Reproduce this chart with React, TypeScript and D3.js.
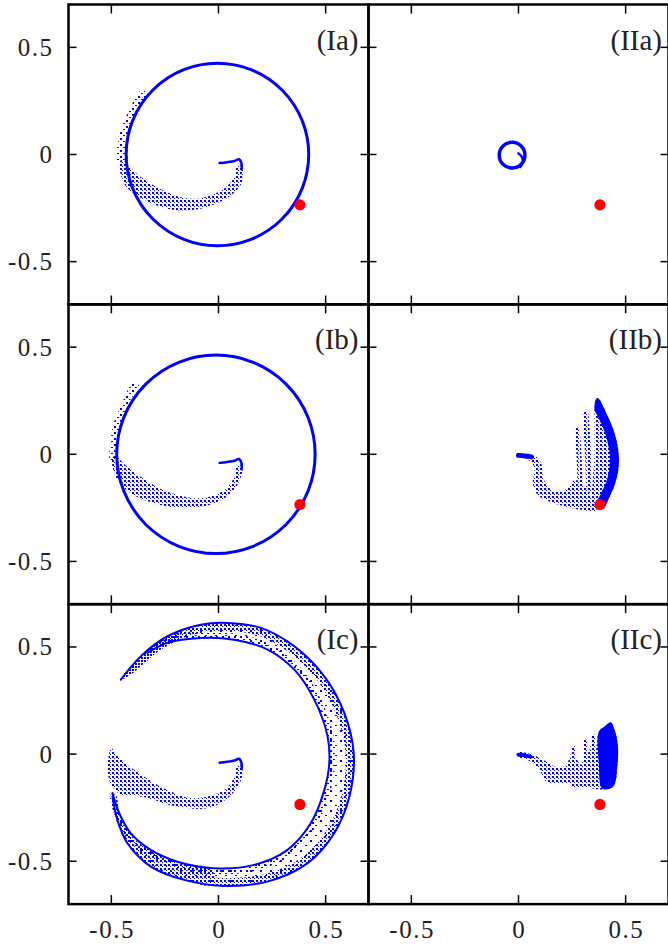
import React from "react";
import * as d3 from "d3";

type P = [number, number];

// axis ticks shared by every panel
const xTicks = [-0.5, 0, 0.5];
const yTicks = [-0.5, 0, 0.5];
const tickText = ["-0.5", "0", "0.5"];
const labels = ["(Ia)", "(IIa)", "(Ib)", "(IIb)", "(Ic)", "(IIc)"];
const redPoint: P = [0.38, -0.235];

// ---- (Ia) ----
const ringIa = [-0.005, 0, 0.426]; // cx, cy, r
const haloIa: P[] = [[-0.36, 0.3], [-0.41, 0.22], [-0.45, 0.13], [-0.47, 0.05], [-0.47, -0.03], [-0.43, -0.03], [-0.425, 0.05], [-0.405, 0.13], [-0.37, 0.22], [-0.33, 0.28]];
const hookI: P[] = [[0.005, -0.04], [0.04, -0.036], [0.075, -0.03], [0.095, -0.022], [0.107, -0.04], [0.108, -0.07]];
const tailIa: P[] = [[0.08, -0.06], [0.078, -0.095], [0.048, -0.14], [-0.01, -0.18], [-0.09, -0.205], [-0.18, -0.198], [-0.276, -0.159], [-0.353, -0.112], [-0.424, -0.05], [-0.45, -0.025], [-0.465, -0.04], [-0.455, -0.096], [-0.431, -0.151], [-0.369, -0.198], [-0.291, -0.237], [-0.198, -0.26], [-0.104, -0.257], [-0.01, -0.229], [0.059, -0.19], [0.106, -0.136], [0.114, -0.075], [0.108, -0.05]];

// ---- (Ib) ----
const ringIb = [-0.012, 0, 0.463];
const haloIb: P[] = [[-0.4, 0.33], [-0.45, 0.24], [-0.49, 0.14], [-0.505, 0.05], [-0.505, -0.03], [-0.475, -0.03], [-0.472, 0.05], [-0.455, 0.14], [-0.42, 0.24], [-0.37, 0.32]];
const tailIb: P[] = [[0.08, -0.06], [0.076, -0.1], [0.03, -0.165], [-0.083, -0.205], [-0.238, -0.175], [-0.363, -0.105], [-0.456, -0.03], [-0.48, 0.0], [-0.497, -0.03], [-0.472, -0.12], [-0.41, -0.182], [-0.3, -0.229], [-0.16, -0.252], [-0.02, -0.229], [0.073, -0.167], [0.112, -0.075], [0.108, -0.05]];

// ---- (Ic) ----
const tailIc: P[] = [[0.08, -0.06], [0.076, -0.1], [0.03, -0.165], [-0.114, -0.206], [-0.238, -0.167], [-0.394, -0.073], [-0.48, 0.0], [-0.5, 0.03], [-0.515, -0.03], [-0.51, -0.12], [-0.47, -0.18], [-0.35, -0.2], [-0.192, -0.245], [-0.051, -0.252], [0.05, -0.2], [0.106, -0.12], [0.112, -0.075], [0.108, -0.05]];
const outerIc: P[] = [[-0.456, 0.347], [-0.363, 0.456], [-0.238, 0.55], [-0.083, 0.604], [0.042, 0.612], [0.198, 0.589], [0.354, 0.503], [0.494, 0.363], [0.587, 0.192], [0.631, 0.005], [0.611, -0.198], [0.54, -0.369], [0.416, -0.509], [0.229, -0.595], [0.026, -0.615], [-0.16, -0.587], [-0.316, -0.525], [-0.425, -0.416], [-0.472, -0.307], [-0.495, -0.198]];
const innerIc: P[] = [[-0.332, 0.472], [-0.238, 0.519], [-0.083, 0.542], [0.073, 0.534], [0.229, 0.488], [0.354, 0.394], [0.447, 0.254], [0.509, 0.083], [0.517, -0.042], [0.494, -0.167], [0.431, -0.322], [0.322, -0.447], [0.167, -0.517], [-0.02, -0.533], [-0.192, -0.502], [-0.316, -0.447], [-0.41, -0.369], [-0.463, -0.276], [-0.495, -0.182]];
const hornIc: P[] = [[-0.46, 0.345], [-0.4, 0.42], [-0.33, 0.49], [-0.25, 0.54], [-0.17, 0.575], [-0.2, 0.53], [-0.28, 0.48], [-0.35, 0.42], [-0.41, 0.37]];
const footIc: P[] = [[-0.505, -0.19], [-0.48, -0.3], [-0.425, -0.416], [-0.316, -0.525], [-0.16, -0.587], [-0.03, -0.61], [-0.03, -0.54], [-0.192, -0.505], [-0.316, -0.452], [-0.41, -0.375], [-0.46, -0.28], [-0.48, -0.19]];
const betweenIc: P[] = [...outerIc, ...innerIc.slice().reverse()];

// ---- (IIa) ----
const ringIIa = [-0.03, -0.003, 0.06];
const hookIIa: P[] = [[0.0, 0.005], [0.015, -0.01], [0.02, -0.035], [0.008, -0.058]];

// ---- (IIb) ----
const blobIIb: P[] = [[0.0, -0.005], [0.03, -0.008], [0.06, -0.012]];
const neckIIb: P[] = [[0.04, -0.002], [0.083, -0.011], [0.106, -0.042], [0.114, -0.104], [0.137, -0.151], [0.192, -0.175], [0.238, -0.151], [0.262, -0.12], [0.3, -0.14], [0.34, -0.2], [0.363, -0.262], [0.301, -0.26], [0.223, -0.245], [0.145, -0.221], [0.09, -0.19], [0.067, -0.136], [0.075, -0.073], [0.059, -0.034], [0.03, -0.02]];
const finger1IIb: P[] = [[0.274, 0.114], [0.282, 0.0], [0.287, -0.135]];
const finger2IIb: P[] = [[0.313, 0.184], [0.322, 0.05], [0.33, -0.167]];
const crescentIIb: P[] = [[0.371, 0.262], [0.417, 0.176], [0.453, 0.082], [0.469, -0.027], [0.456, -0.12], [0.425, -0.198], [0.394, -0.253], [0.347, -0.225], [0.347, -0.12], [0.355, 0.004], [0.355, 0.129], [0.36, 0.255]];
const rimIIb: P[] = [[0.371, 0.262], [0.417, 0.176], [0.453, 0.082], [0.469, -0.027], [0.456, -0.12], [0.425, -0.198], [0.394, -0.253]];

// ---- (IIc) ----
const blobIIc: P[] = [[0.0, -0.003], [0.03, -0.006], [0.055, -0.012]];
const bodyIIc: P[] = [[0.005, 0.008], [0.067, -0.003], [0.121, -0.03], [0.176, -0.061], [0.215, -0.058], [0.238, -0.019], [0.257, 0.028], [0.273, -0.026], [0.293, -0.05], [0.313, 0.059], [0.324, 0.004], [0.351, 0.082], [0.363, 0.02], [0.375, 0.105], [0.402, 0.129], [0.43, 0.149], [0.449, 0.113], [0.464, 0.036], [0.461, -0.058], [0.441, -0.154], [0.363, -0.164], [0.316, -0.154], [0.27, -0.159], [0.231, -0.136], [0.207, -0.136], [0.13, -0.128], [0.106, -0.089], [0.075, -0.05], [0.036, -0.024], [0.005, -0.015]];
const coreIIc: P[] = [[0.375, 0.105], [0.402, 0.129], [0.43, 0.149], [0.449, 0.113], [0.464, 0.036], [0.461, -0.058], [0.441, -0.154], [0.39, -0.16], [0.375, -0.05]];
const fingersIIc: P[][] = [
  [[0.257, 0.028], [0.26, -0.05], [0.265, -0.13]],
  [[0.313, 0.059], [0.318, -0.03], [0.32, -0.14]],
  [[0.351, 0.082], [0.355, 0.0], [0.358, -0.14]],
];

const BLUE = "#0000ff";
const FONT = "'Liberation Serif', 'Times New Roman', serif";
const colX = [68.5, 368.5];
const rowY = [4.5, 304.3, 604.1];
const PW = 300;
const PH = 300;

type Stroke = { pts: P[]; w: number; paint: string; clip?: P[] };
type Area = { pts: P[]; paint: string };
type Panel = { rings: { c: number[]; w: number }[]; areas: Area[]; strokes: Stroke[] };

const dense = "url(#dotsDense)";
const med = "url(#dotsMed)";
const sparse = "url(#dotsSparse)";
const faint = "url(#dotsFaint)";

const panels: Panel[] = [
  {
    rings: [{ c: ringIa, w: 3 }],
    areas: [{ pts: haloIa, paint: sparse }, { pts: tailIa, paint: med }],
    strokes: [{ pts: hookI, w: 2.5, paint: BLUE }],
  },
  {
    rings: [{ c: ringIIa, w: 3.5 }],
    areas: [],
    strokes: [{ pts: hookIIa, w: 2.5, paint: BLUE }],
  },
  {
    rings: [{ c: ringIb, w: 3 }],
    areas: [{ pts: haloIb, paint: sparse }, { pts: tailIb, paint: med }],
    strokes: [{ pts: hookI, w: 2.5, paint: BLUE }],
  },
  {
    rings: [],
    areas: [{ pts: neckIIb, paint: med }, { pts: crescentIIb, paint: med }],
    strokes: [
      { pts: blobIIb, w: 5, paint: BLUE },
      { pts: finger1IIb, w: 5, paint: med },
      { pts: finger2IIb, w: 6, paint: med },
      { pts: rimIIb, w: 18, paint: BLUE, clip: crescentIIb },
    ],
  },
  {
    rings: [],
    areas: [
      { pts: betweenIc, paint: faint },
      { pts: hornIc, paint: dense },
      { pts: footIc, paint: med },
      { pts: tailIc, paint: med },
    ],
    strokes: [
      { pts: outerIc, w: 16, paint: med, clip: betweenIc },
      { pts: innerIc, w: 12, paint: sparse, clip: betweenIc },
      { pts: outerIc, w: 2, paint: BLUE },
      { pts: innerIc, w: 2, paint: BLUE },
      { pts: hookI, w: 2.5, paint: BLUE },
    ],
  },
  {
    rings: [],
    areas: [{ pts: bodyIIc, paint: med }, { pts: coreIIc, paint: BLUE }],
    strokes: [
      { pts: blobIIc, w: 4, paint: BLUE },
      ...fingersIIc.map((f) => ({ pts: f, w: 4, paint: med })),
    ],
  },
];

function PanelView({ idx }: { idx: number }) {
  const col = idx % 2;
  const row = Math.floor(idx / 2);
  const cfg = panels[idx];
  const x0 = colX[col];
  const y0 = rowY[row];
  const x = d3.scaleLinear().domain([-0.7, 0.7]).range([x0, x0 + PW]);
  const y = d3.scaleLinear().domain([-0.7, 0.7]).range([y0 + PH, y0]);
  const open = d3.line<P>().x((d) => x(d[0])).y((d) => y(d[1])).curve(d3.curveCatmullRom.alpha(0.5));
  const closed = d3.line<P>().x((d) => x(d[0])).y((d) => y(d[1])).curve(d3.curveCatmullRomClosed.alpha(0.5));
  const id = `p${idx}`;
  return (
    <g>
      <defs>
        <clipPath id={`${id}-frame`}>
          <rect x={x0} y={y0} width={PW} height={PH} />
        </clipPath>
        {cfg.strokes.map((s, i) =>
          s.clip ? (
            <clipPath key={i} id={`${id}-c${i}`}>
              <path d={closed(s.clip) || ""} />
            </clipPath>
          ) : null
        )}
      </defs>
      <g clipPath={`url(#${id}-frame)`}>
        {cfg.areas.map((a, i) => (
          <path key={`a${i}`} d={closed(a.pts) || ""} fill={a.paint} stroke="none" />
        ))}
        {cfg.strokes.map((s, i) => (
          <path
            key={`s${i}`}
            d={open(s.pts) || ""}
            fill="none"
            stroke={s.paint}
            strokeWidth={s.w}
            strokeLinecap="round"
            clipPath={s.clip ? `url(#${id}-c${i})` : undefined}
          />
        ))}
        {cfg.rings.map((r, i) => (
          <ellipse
            key={`r${i}`}
            cx={x(r.c[0])}
            cy={y(r.c[1])}
            rx={x(r.c[2]) - x(0)}
            ry={y(0) - y(r.c[2])}
            fill="none"
            stroke={BLUE}
            strokeWidth={r.w}
          />
        ))}
        <circle cx={x(redPoint[0])} cy={y(redPoint[1])} r={5.6} fill="#ff0000" />
      </g>
      {/* ticks on all four sides, pointing inward */}
      {xTicks.map((t) => (
        <g key={`xt${t}`} stroke="#000" strokeWidth={1.5}>
          <line x1={x(t)} x2={x(t)} y1={y0 + PH} y2={y0 + PH - 9} />
          <line x1={x(t)} x2={x(t)} y1={y0} y2={y0 + 9} />
        </g>
      ))}
      {yTicks.map((t) => (
        <g key={`yt${t}`} stroke="#000" strokeWidth={1.5}>
          <line x1={x0} x2={x0 + 8} y1={y(t)} y2={y(t)} />
          <line x1={x0 + PW} x2={x0 + PW - 8} y1={y(t)} y2={y(t)} />
        </g>
      ))}
      <rect x={x0} y={y0} width={PW} height={PH} fill="none" stroke="#000" strokeWidth={2.5} />
      <text
        x={x0 + PW - (col === 0 ? 10 : 6.5)}
        y={y0 + 45}
        textAnchor="end"
        fontFamily={FONT}
        fontSize={29}
        fill="#222"
      >
        {labels[idx]}
      </text>
      {col === 0 &&
        yTicks.map((t, i) => (
          <text
            key={`yl${t}`}
            x={x0 - 15}
            y={y(t)}
            dy="0.34em"
            textAnchor="end"
            fontFamily={FONT}
            fontSize={25}
            letterSpacing={1.5}
            fill="#222"
          >
            {tickText[i]}
          </text>
        ))}
      {row === 2 &&
        xTicks.map((t, i) => (
          <text
            key={`xl${t}`}
            x={x(t) + 0.75}
            y={938}
            textAnchor="middle"
            fontFamily={FONT}
            fontSize={25}
            letterSpacing={1.5}
            fill="#222"
          >
            {tickText[i]}
          </text>
        ))}
    </g>
  );
}

export default function App() {
  return (
    <svg
      width={668}
      height={944}
      style={{ position: "absolute", left: 0, top: 0, background: "#fff" }}
    >
      <defs>
        {/* pixel-aligned dot textures standing in for the scattered points */}
        <pattern id="dotsDense" width={3} height={3} patternUnits="userSpaceOnUse">
          <rect width={2} height={2} fill={BLUE} />
        </pattern>
        <pattern id="dotsMed" width={4} height={4} patternUnits="userSpaceOnUse">
          <rect x={0} y={0} width={2} height={2} fill={BLUE} />
          <rect x={2} y={2} width={1} height={1} fill={BLUE} />
        </pattern>
        <pattern id="dotsSparse" width={6} height={6} patternUnits="userSpaceOnUse">
          <rect x={0} y={0} width={2} height={2} fill={BLUE} />
          <rect x={3} y={3} width={2} height={1} fill={BLUE} />
        </pattern>
        <pattern id="dotsFaint" width={10} height={10} patternUnits="userSpaceOnUse">
          <rect x={0} y={0} width={2} height={2} fill={BLUE} />
          <rect x={5} y={5} width={2} height={1} fill={BLUE} />
        </pattern>
      </defs>
      <rect width={668} height={944} fill="#fff" />
      {panels.map((_, i) => (
        <PanelView key={i} idx={i} />
      ))}
    </svg>
  );
}
